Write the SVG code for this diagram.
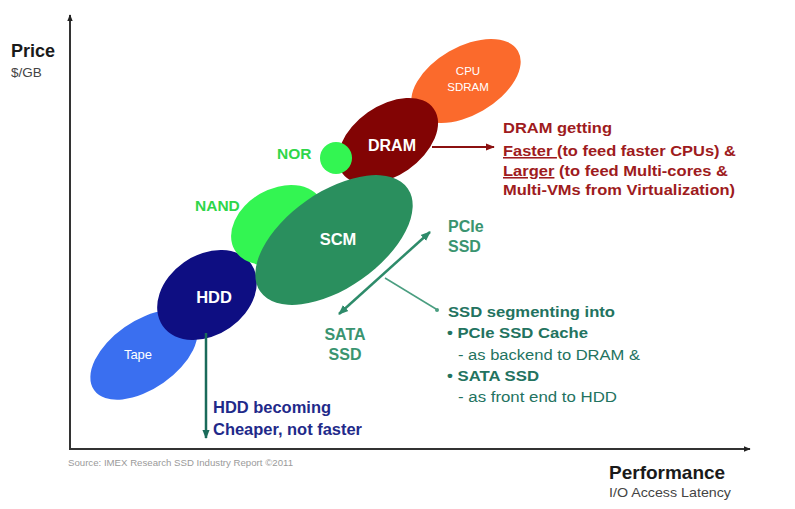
<svg xmlns="http://www.w3.org/2000/svg" width="795" height="509" viewBox="0 0 795 509">
<style>
text{font-family:"Liberation Sans",Arial,sans-serif}
.b{font-weight:bold}
.w{fill:#ffffff}
.red{fill:#9e1b20;font-size:15.5px;font-weight:bold}
.teal{fill:#23735f;font-size:15.5px}
.grn{fill:#2fd64a;font-size:15.5px;font-weight:bold}
.ssd{fill:#3a9470;font-size:16px;font-weight:bold}
.navy{fill:#1f2a8a;font-size:16px;font-weight:bold}
</style>
<defs>
<marker id="ab" viewBox="0 0 10 10" refX="9" refY="5" markerWidth="7" markerHeight="7" orient="auto-start-reverse" markerUnits="userSpaceOnUse"><path d="M0,1 L10,5 L0,9 z" fill="#222"/></marker>
<marker id="ar" viewBox="0 0 10 10" refX="9" refY="5" markerWidth="9" markerHeight="9" orient="auto" markerUnits="userSpaceOnUse"><path d="M0,1 L10,5 L0,9 z" fill="#8b1010"/></marker>
<marker id="at" viewBox="0 0 10 10" refX="9" refY="5" markerWidth="10" markerHeight="10" orient="auto-start-reverse" markerUnits="userSpaceOnUse"><path d="M0,1 L10,5 L0,9 z" fill="#2e8b6a"/></marker>
<marker id="ah" viewBox="0 0 10 10" refX="9" refY="5" markerWidth="9" markerHeight="9" orient="auto" markerUnits="userSpaceOnUse"><path d="M0,1 L10,5 L0,9 z" fill="#1a6b5a"/></marker>
</defs>
<rect width="795" height="509" fill="#ffffff"/>

<g id="axes">
<line x1="70" y1="449" x2="70" y2="15" stroke="#333" stroke-width="2" marker-end="url(#ab)"/>
<line x1="69" y1="449" x2="750" y2="449" stroke="#333" stroke-width="2" marker-end="url(#ab)"/>
<text x="11" y="57" class="b" font-size="18" fill="#1a1a1a">Price</text>
<text x="11" y="77" font-size="13.5" fill="#444">$/GB</text>
<text x="609" y="479" class="b" font-size="19" fill="#1a1a1a">Performance</text>
<text x="609" y="497" font-size="13.5" fill="#444" textLength="122" lengthAdjust="spacingAndGlyphs">I/O Access Latency</text>
<text x="68" y="466" font-size="9.5" fill="#9a9a9a" textLength="225" lengthAdjust="spacingAndGlyphs">Source: IMEX Research SSD Industry  Report  ©2011</text>
</g>

<g id="tape">
<ellipse cx="144" cy="355" rx="61" ry="34" transform="rotate(-35 144 355)" fill="#3a6ff0"/>
<text x="138" y="359" class="w" font-size="13" text-anchor="middle">Tape</text>
</g>
<g id="hdd">
<ellipse cx="207" cy="295" rx="54" ry="40" transform="rotate(-35 207 295)" fill="#0e0e82"/>
<text x="214" y="303" class="w b" font-size="16.5" text-anchor="middle">HDD</text>
</g>
<g id="nand">
<ellipse cx="278" cy="225" rx="50" ry="36" transform="rotate(-30 278 225)" fill="#33f552"/>
<text x="195" y="211" class="grn">NAND</text>
</g>
<g id="cpu-sdram">
<ellipse cx="466" cy="81" rx="60" ry="34" transform="rotate(-30 466 81)" fill="#fb6a2c"/>
<text x="468" y="75" class="w" font-size="11.5" text-anchor="middle">CPU</text>
<text x="468" y="91" class="w" font-size="11.5" text-anchor="middle">SDRAM</text>
</g>
<g id="dram">
<ellipse cx="388" cy="141" rx="56" ry="35" transform="rotate(-35 388 141)" fill="#820404"/>
<text x="392" y="151" class="w b" font-size="16" text-anchor="middle">DRAM</text>
</g>
<g id="nor">
<circle cx="336" cy="158" r="16" fill="#33f552"/>
<text x="277" y="159" class="grn">NOR</text>
</g>
<g id="scm">
<ellipse cx="334" cy="240" rx="90" ry="48" transform="rotate(-35 334 240)" fill="#2a8f5e"/>
<text x="338" y="245" class="w b" font-size="16.5" text-anchor="middle">SCM</text>
</g>

<g id="pcie-ssd">
<text x="448" y="232" class="ssd">PCIe</text>
<text x="448" y="252" class="ssd">SSD</text>
</g>
<g id="sata-ssd">
<text x="345" y="340" class="ssd" text-anchor="middle">SATA</text>
<text x="345" y="360" class="ssd" text-anchor="middle">SSD</text>
</g>

<g id="connectors">
<line x1="432" y1="147" x2="494" y2="147" stroke="#8b1010" stroke-width="2" marker-end="url(#ar)"/>
<line x1="339" y1="314" x2="430" y2="232" stroke="#2e8b6a" stroke-width="2.5" marker-start="url(#at)" marker-end="url(#at)"/>
<line x1="385" y1="278" x2="436" y2="309" stroke="#4a9e80" stroke-width="1.5"/>
<circle cx="437" cy="310" r="2" fill="#4a9e80"/>
<line x1="206" y1="333" x2="206" y2="438" stroke="#1a6b5a" stroke-width="2.5" marker-end="url(#ah)"/>
</g>

<g id="dram-note">
<text x="503" y="133" class="red" textLength="109" lengthAdjust="spacingAndGlyphs">DRAM getting</text>
<text x="503" y="156" class="red" textLength="233" lengthAdjust="spacingAndGlyphs"><tspan text-decoration="underline">Faster </tspan>(to feed faster CPUs) &amp;</text>
<text x="503" y="176" class="red" textLength="225" lengthAdjust="spacingAndGlyphs"><tspan text-decoration="underline">Larger</tspan> (to feed Multi-cores &amp;</text>
<text x="503" y="195" class="red" textLength="232" lengthAdjust="spacingAndGlyphs">Multi-VMs from Virtualization)</text>
</g>

<g id="ssd-note">
<text x="448" y="317" class="teal b" textLength="167" lengthAdjust="spacingAndGlyphs">SSD segmenting into</text>
<text x="447" y="338" class="teal b" textLength="141" lengthAdjust="spacingAndGlyphs">• PCIe SSD Cache</text>
<text x="458" y="360" class="teal" textLength="182" lengthAdjust="spacingAndGlyphs">- as backend to DRAM &amp;</text>
<text x="447" y="381" class="teal b" textLength="92" lengthAdjust="spacingAndGlyphs">• SATA SSD</text>
<text x="458" y="402" class="teal" textLength="159" lengthAdjust="spacingAndGlyphs">- as front end to HDD</text>
</g>

<g id="hdd-note">
<text x="213" y="413" class="navy" textLength="118" lengthAdjust="spacingAndGlyphs">HDD becoming</text>
<text x="213" y="435" class="navy" textLength="149" lengthAdjust="spacingAndGlyphs">Cheaper, not faster</text>
</g>
</svg>
